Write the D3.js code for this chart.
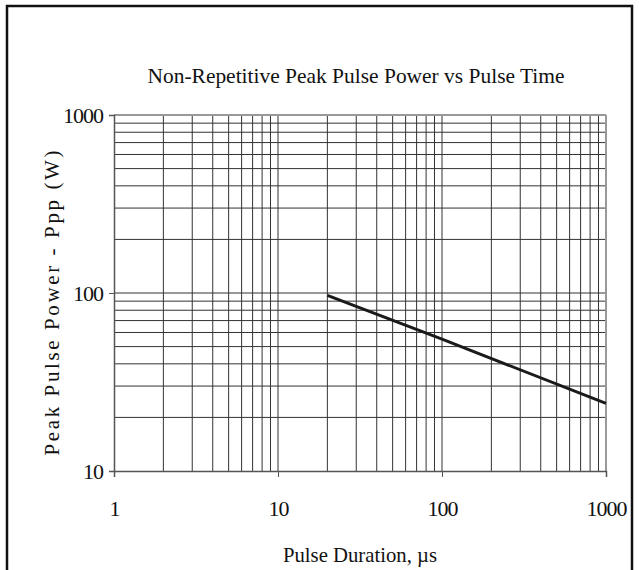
<!DOCTYPE html>
<html>
<head>
<meta charset="utf-8">
<script src="https://cdn.jsdelivr.net/npm/d3@7"></script>
<style>
  body { margin: 0; background: #fff; }
  text { font-family: "Liberation Serif", "Times New Roman", serif; fill: #111; }
</style>
</head>
<body>
<div id="chart"></div>
<script>
// values
var pulseTime = [20, 100, 1000];        // µs
var peakPower = [97, 55, 24];           // W
var xTicks = [1, 10, 100, 1000];
var yTicks = [10, 100, 1000];
var xDomain = [1, 1000];
var yDomain = [10, 1000];

var svgWidth = 639;
var svgHeight = 570;

var margin = { top: 115, right: 33, bottom: 99, left: 114 };
var chartWidth = svgWidth - margin.left - margin.right;
var chartHeight = svgHeight - margin.top - margin.bottom;

var svg = d3.select("#chart").append("svg")
  .attr("width", svgWidth)
  .attr("height", svgHeight);

// outer frame
svg.append("rect")
  .attr("x", 7)
  .attr("y", 6)
  .attr("width", 625)
  .attr("height", 600)
  .attr("fill", "none")
  .attr("stroke", "#111")
  .attr("stroke-width", 2.5);

var chartGroup = svg.append("g")
  .attr("transform", `translate(${margin.left}, ${margin.top})`);

var xScale = d3.scaleLog().domain(xDomain).range([0, chartWidth]);
var yScale = d3.scaleLog().domain(yDomain).range([chartHeight, 0]);

// minor + major grid values (1..9 per decade)
var xGrid = xScale.ticks().filter(d => d > xDomain[0] && d < xDomain[1]);
var yGrid = yScale.ticks().filter(d => d > yDomain[0] && d < yDomain[1]);

chartGroup.append("g").selectAll("line")
  .data(xGrid)
  .enter()
  .append("line")
  .attr("x1", d => xScale(d))
  .attr("x2", d => xScale(d))
  .attr("y1", 0)
  .attr("y2", chartHeight)
  .attr("stroke", "#333")
  .attr("stroke-width", 1);

chartGroup.append("g").selectAll("line")
  .data(yGrid)
  .enter()
  .append("line")
  .attr("x1", 0)
  .attr("x2", chartWidth)
  .attr("y1", d => yScale(d))
  .attr("y2", d => yScale(d))
  .attr("stroke", "#333")
  .attr("stroke-width", 1);

// top and right edges of plot area (grey)
chartGroup.append("line")
  .attr("x1", 0).attr("x2", chartWidth)
  .attr("y1", 0).attr("y2", 0)
  .attr("stroke", "#999").attr("stroke-width", 2);
chartGroup.append("line")
  .attr("x1", chartWidth).attr("x2", chartWidth)
  .attr("y1", 0).attr("y2", chartHeight)
  .attr("stroke", "#999").attr("stroke-width", 2);

// axes
var bottomAxis = d3.axisBottom(xScale).tickValues(xTicks).tickFormat(d3.format("d"))
  .tickSize(6).tickPadding(23);
var leftAxis = d3.axisLeft(yScale).tickValues(yTicks).tickFormat(d3.format("d"))
  .tickSize(5).tickPadding(6);

var xAxisG = chartGroup.append("g")
  .attr("transform", `translate(0, ${chartHeight})`)
  .call(bottomAxis);
var yAxisG = chartGroup.append("g").call(leftAxis);

[xAxisG, yAxisG].forEach(function(g) {
  g.select(".domain").attr("stroke", "#555").attr("stroke-width", 1.5);
  g.selectAll(".tick line").attr("stroke", "#555");
  g.selectAll("text")
    .style("font-family", '"Liberation Serif", serif')
    .style("font-size", "22px")
    .style("letter-spacing", "-1px")
    .attr("fill", "#111");
});
yAxisG.selectAll("text").attr("dy", "0.35em");

// data line
var line = d3.line()
  .x((d, i) => xScale(pulseTime[i]))
  .y(d => yScale(d));

chartGroup.append("path")
  .datum(peakPower)
  .attr("d", line)
  .attr("fill", "none")
  .attr("stroke", "#1a1a1a")
  .attr("stroke-width", 3);

// title
svg.append("text")
  .attr("x", 356)
  .attr("y", 83)
  .attr("text-anchor", "middle")
  .attr("textLength", 417)
  .attr("lengthAdjust", "spacingAndGlyphs")
  .style("font-size", "22px")
  .text("Non-Repetitive Peak Pulse Power vs Pulse Time");

// y axis title
svg.append("text")
  .attr("transform", `translate(59, 303) rotate(-90)`)
  .attr("text-anchor", "middle")
  .attr("textLength", 305)
  .attr("lengthAdjust", "spacing")
  .style("font-size", "21px")
  .text("Peak Pulse Power - Ppp (W)");

// x axis title
svg.append("text")
  .attr("x", margin.left + chartWidth / 2)
  .attr("y", 562)
  .attr("text-anchor", "middle")
  .attr("textLength", 154)
  .attr("lengthAdjust", "spacingAndGlyphs")
  .style("font-size", "21px")
  .text("Pulse Duration, µs");
</script>
</body>
</html>
